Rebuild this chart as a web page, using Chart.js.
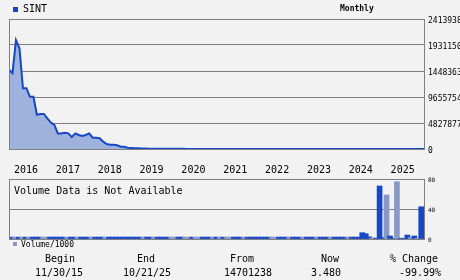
<!DOCTYPE html>
<html>
<head>
<meta charset="utf-8">
<script src="https://cdn.jsdelivr.net/npm/chart.js@4.4.1/dist/chart.umd.min.js"></script>
<style>
  body { margin: 0; background: #f2f2f2; }
  #wrap {
    position: relative; width: 460px; height: 280px; overflow: hidden;
    background: #f2f2f2; color: #000;
    font-family: "DejaVu Sans Mono", monospace;
  }
  .t { position: absolute; white-space: pre; line-height: 1; }
  .c { transform: translateX(-50%); }
  .sq { position: absolute; }
  #priceBox { position: absolute; left: 0; top: 0; }
  #volBox { position: absolute; left: 0; top: 170px; }
</style>
</head>
<body>
<div id="wrap">
  <div id="priceBox"><canvas id="priceChart" width="460" height="182"></canvas></div>
  <div id="volBox"><canvas id="volChart" width="460" height="80"></canvas></div>

  <div class="sq" style="left:13px;top:7px;width:5px;height:5px;background:#1448c8"></div>
  <div class="t" style="left:23px;top:4px;font-size:10px">SINT</div>
  <div class="t" style="left:340px;top:5px;font-size:8px;font-weight:bold">Monthly</div>

  <div class="t" style="left:14px;top:186px;font-size:10px">Volume Data is Not Available</div>
  <div class="sq" style="left:13px;top:242px;width:4px;height:4px;background:#8899c4"></div>
  <div class="t" style="left:21px;top:241px;font-size:8px">Volume/1000</div>

  <div class="t c" style="left:60px;top:254px;font-size:10px">Begin</div>
  <div class="t c" style="left:59px;top:268px;font-size:10px">11/30/15</div>
  <div class="t c" style="left:146px;top:254px;font-size:10px">End</div>
  <div class="t c" style="left:147px;top:268px;font-size:10px">10/21/25</div>
  <div class="t c" style="left:242px;top:254px;font-size:10px">From</div>
  <div class="t c" style="left:248px;top:268px;font-size:10px">14701238</div>
  <div class="t c" style="left:330px;top:254px;font-size:10px">Now</div>
  <div class="t c" style="left:326px;top:268px;font-size:10px">3.480</div>
  <div class="t c" style="left:414px;top:254px;font-size:10px">% Change</div>
  <div class="t c" style="left:420px;top:268px;font-size:10px">-99.99%</div>
</div>

<script>
// monthly closes, Nov 2015 .. Oct 2025
const priceData = [
  14701238, 14100000, 20200000, 18700000, 11300000, 11300000, 9700000, 9700000, 6350000, 6500000,
  6500000, 5700000, 4900000, 4460000, 2900000, 2900000, 3000000, 2900000, 2200000, 2900000,
  2600000, 2400000, 2600000, 2900000, 2100000, 2100000, 2000000, 1360000, 930000, 800000,
  800000, 690000, 430000, 430000, 240000, 190000, 150000, 120000, 90000, 70000,
  60000, 55000, 50000, 45000, 40000, 36000, 33000, 30000, 28000, 26000,
  24000, 22000, 20000, 18000, 16000, 15000, 14000, 13000, 12000, 11000,
  10000, 9000, 8500, 8000, 7500, 7000, 6500, 6000, 5500, 5000,
  4600, 4200, 3800, 3400, 3000, 2700, 2400, 2100, 1800, 1600,
  1400, 1200, 1000, 900, 800, 700, 600, 500, 420, 360,
  300, 250, 200, 160, 130, 100, 80, 60, 45, 35,
  28, 22, 18, 15, 12, 10, 9, 8, 7, 6.5,
  6, 5.6, 5.2, 4.9, 4.6, 4.3, 4.1, 3.9, 3.7, 3.48
];

// volume in thousands, same months
const volumeData = [
  2.5, 2.5, 2.5, 2.5, 2.5, 2.5, 2.5, 2.5, 2.5, 2.5,
  2.5, 2.5, 2.5, 2.5, 2.5, 2.5, 2.5, 2.5, 2.5, 2.5,
  2.5, 2.5, 2.5, 2.5, 2.5, 2.5, 2.5, 2.5, 2.5, 2.5,
  2.5, 2.5, 2.5, 2.5, 2.5, 2.5, 2.5, 2.5, 2.5, 2.5,
  2.5, 2.5, 2.5, 2.5, 2.5, 2.5, 2.5, 2.5, 2.5, 2.5,
  2.5, 2.5, 2.5, 2.5, 2.5, 2.5, 2.5, 2.5, 2.5, 2.5,
  2.5, 2.5, 2.5, 2.5, 2.5, 2.5, 2.5, 2.5, 2.5, 2.5,
  2.5, 2.5, 2.5, 2.5, 2.5, 2.5, 2.5, 2.5, 2.5, 2.5,
  2.5, 2.5, 2.5, 2.5, 2.5, 2.5, 2.5, 2.5, 2.5, 2.5,
  2.5, 2.5, 2.5, 2.5, 2.5, 2.5, 2.5, 2.5, 2.5, 2.5,
  2.5, 8.4, 7.1, 3, 1.7, 1, 70.7, 2, 58.7, 4,
  1, 76.4, 1, 1, 5.3, 1.7, 4, 1, 43, 0
];

// 1 = up month (dark bar), 0 = down month (light bar)
const volumeUp = [
  1, 0, 1, 0, 1, 0, 1, 1, 1, 0,
  0, 1, 1, 1, 1, 1, 0, 1, 1, 0,
  1, 1, 1, 0, 1, 1, 1, 0, 1, 1,
  1, 1, 1, 1, 1, 1, 1, 1, 0, 1,
  1, 0, 1, 1, 1, 1, 0, 0, 1, 1,
  0, 0, 1, 0, 0, 1, 1, 1, 0, 1,
  0, 1, 0, 0, 1, 1, 1, 0, 1, 1,
  1, 1, 1, 1, 1, 0, 0, 1, 1, 1,
  0, 1, 1, 1, 0, 1, 1, 1, 0, 1,
  1, 1, 0, 1, 1, 1, 1, 0, 1, 1,
  1, 1, 1, 1, 0, 1, 1, 1, 0, 1,
  1, 0, 1, 1, 1, 0, 1, 0, 1, 1
];

const yearLabels = ["2016", "2017", "2018", "2019", "2020", "2021", "2022", "2023", "2024", "2025"];
const yearStartIdx = [2, 14, 26, 38, 50, 62, 74, 86, 98, 110];
const priceTicks = [0, 4827877, 9655754, 14483631, 19311508, 24139385];
const volumeTicks = [0, 40, 80];

const BLUE = "#1448c8";
const LIGHT = "#8899c4";
const GRID = "#808080";
const FONT = "'DejaVu Sans Mono', monospace";

// left edge of the plot box (chart.js only draws the axis sides)
const frame = {
  id: "frame",
  afterDatasetsDraw(chart) {
    const { ctx, chartArea: a } = chart;
    ctx.save();
    ctx.strokeStyle = GRID;
    ctx.lineWidth = 1;
    ctx.beginPath();
    ctx.moveTo(a.left + 0.5, a.top);
    ctx.lineTo(a.left + 0.5, a.bottom + 1);
    ctx.stroke();
    ctx.restore();
  },
};

new Chart(document.getElementById("priceChart"), {
  type: "line",
  data: {
    datasets: [
      {
        data: priceData.map((v, i) => ({ x: i, y: v })),
        borderColor: BLUE,
        borderWidth: 2,
        backgroundColor: "#9fb2de",
        fill: "origin",
        pointRadius: 0,
        tension: 0,
      },
    ],
  },
  plugins: [frame],
  options: {
    responsive: false,
    animation: false,
    devicePixelRatio: 1,
    layout: { padding: { left: 9, top: 19, right: 0, bottom: 0 } },
    plugins: { legend: { display: false }, tooltip: { enabled: false } },
    scales: {
      x: {
        type: "linear",
        min: 0,
        max: 119,
        afterBuildTicks: (s) => { s.ticks = yearStartIdx.map((v) => ({ value: v })); },
        afterFit: (s) => { s.height = 33; },
        grid: { display: false, drawTicks: false },
        border: { display: true, color: GRID, width: 1 },
        ticks: {
          align: "start",
          labelOffset: -2,
          padding: 15,
          maxRotation: 0,
          autoSkip: false,
          color: "#000",
          font: { family: FONT, size: 10 },
          callback: (v) => yearLabels[yearStartIdx.indexOf(v)],
        },
      },
      y: {
        position: "right",
        min: 0,
        max: 24139385,
        afterBuildTicks: (s) => { s.ticks = priceTicks.map((v) => ({ value: v })); },
        afterFit: (s) => { s.width = 36; },
        grid: { color: GRID, lineWidth: 1, drawTicks: false },
        border: { display: true, color: GRID, width: 1 },
        ticks: {
          padding: 4,
          labelOffset: 2,
          color: "#000",
          font: { family: FONT, size: 8 },
          callback: (v) => String(v),
        },
      },
    },
  },
});

new Chart(document.getElementById("volChart"), {
  type: "bar",
  data: {
    datasets: [
      {
        data: volumeData.map((v, i) => ({ x: i, y: v })),
        backgroundColor: volumeUp.map((u) => (u ? BLUE : LIGHT)),
        barThickness: 5,
        borderWidth: 0,
      },
    ],
  },
  plugins: [frame],
  options: {
    responsive: false,
    animation: false,
    devicePixelRatio: 1,
    layout: { padding: { left: 9, top: 9, right: 0, bottom: 11 } },
    plugins: { legend: { display: false }, tooltip: { enabled: false } },
    scales: {
      x: {
        type: "linear",
        min: -0.8,
        max: 118.8,
        offset: false,
        bounds: "data",
        display: false,
        grid: { offset: false },
      },
      y: {
        position: "right",
        min: 0,
        max: 80,
        afterBuildTicks: (s) => { s.ticks = volumeTicks.map((v) => ({ value: v })); },
        afterFit: (s) => { s.width = 36; },
        grid: { color: GRID, lineWidth: 1, drawTicks: false },
        border: { display: true, color: GRID, width: 1 },
        ticks: {
          padding: 4,
          labelOffset: 1.5,
          color: "#000",
          font: { family: FONT, size: 6 },
          callback: (v) => String(v),
        },
      },
    },
  },
});
</script>
</body>
</html>
